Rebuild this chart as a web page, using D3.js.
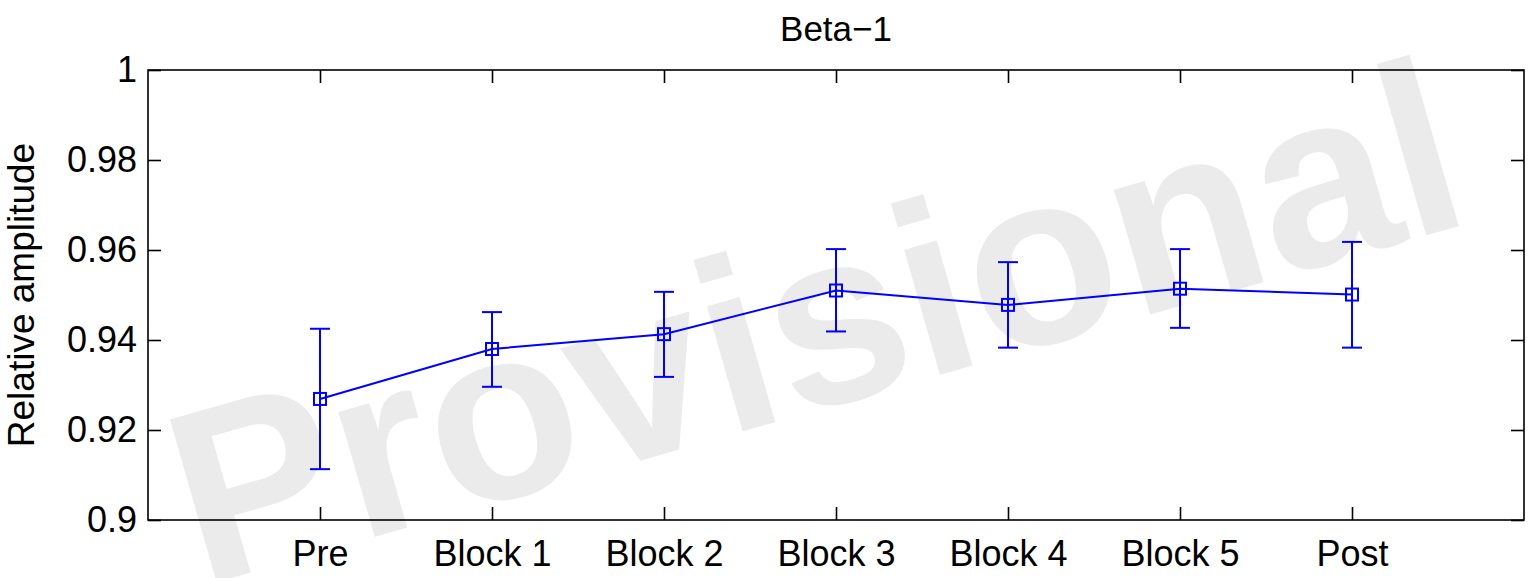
<!DOCTYPE html>
<html>
<head>
<meta charset="utf-8">
<script src="https://cdn.jsdelivr.net/npm/d3@7"></script>
<style>
  body { margin: 0; background: #fff; }
  svg text { font-family: "Liberation Sans", Arial, Helvetica, sans-serif; }
</style>
</head>
<body>
<div id="chart"></div>
<script>
const categories = ['Pre', 'Block 1', 'Block 2', 'Block 3', 'Block 4', 'Block 5', 'Post'];
const means = [0.9269, 0.9380, 0.9413, 0.9510, 0.9478, 0.9514, 0.9501];
const upper = [0.9425, 0.9462, 0.9507, 0.9602, 0.9573, 0.9602, 0.9618];
const lower = [0.9113, 0.9296, 0.9318, 0.9419, 0.9383, 0.9427, 0.9383];
const yTicks = [0.9, 0.92, 0.94, 0.96, 0.98, 1];
const title = 'Beta\u22121';
const yLabel = 'Relative amplitude';

const width = 1538, height = 578;
const margin = {top: 70, right: 14, bottom: 58, left: 148};
const blue = '#0000ff';

const svg = d3.select('#chart')
    .append('svg')
    .attr('width', width)
    .attr('height', height);

// watermark behind everything
svg.append('text')
    .attr('transform', 'translate(838,404) rotate(-16)')
    .attr('text-anchor', 'middle')
    .style('font-size', '246px')
    .style('font-weight', 'bold')
    .attr('fill', '#ebebeb')
    .text('Provisional');

const xScale = d3.scaleLinear()
    .domain([0, categories.length + 1])
    .range([margin.left, width - margin.right]);

const yScale = d3.scaleLinear()
    .domain([0.9, 1])
    .range([height - margin.bottom, margin.top]);

const data = categories.map((c, i) => ({cat: c, x: i + 1, m: means[i], hi: upper[i], lo: lower[i]}));
const xTicks = data.map(d => d.x);

const fmtY = d => (d === 1 ? '1' : d3.format('.2~f')(d));

// bottom axis with labels
const gx = svg.append('g')
    .attr('transform', `translate(0,${height - margin.bottom})`)
    .call(d3.axisBottom(xScale).tickValues(xTicks).tickSize(-13).tickPadding(20)
        .tickFormat((d, i) => categories[i]));

// top axis, ticks only
const gxt = svg.append('g')
    .attr('transform', `translate(0,${margin.top})`)
    .call(d3.axisTop(xScale).tickValues(xTicks).tickSize(-13).tickFormat(''));

// left axis
const gy = svg.append('g')
    .attr('transform', `translate(${margin.left},0)`)
    .call(d3.axisLeft(yScale).tickValues(yTicks).tickSize(-13).tickPadding(11).tickFormat(fmtY));

// right axis, ticks only
const gyr = svg.append('g')
    .attr('transform', `translate(${width - margin.right},0)`)
    .call(d3.axisRight(yScale).tickValues(yTicks).tickSize(-13).tickFormat(''));

[gx, gxt, gy, gyr].forEach(g => {
    g.select('.domain').remove();
    g.selectAll('.tick line').attr('stroke', '#000').attr('stroke-width', 1.6);
    g.selectAll('.tick text')
        .attr('fill', '#000')
        .style('font-size', '36px');
});

// frame
svg.append('rect')
    .attr('x', margin.left)
    .attr('y', margin.top)
    .attr('width', width - margin.left - margin.right)
    .attr('height', height - margin.top - margin.bottom)
    .attr('fill', 'none')
    .attr('stroke', '#000')
    .attr('stroke-width', 1.6);

// title
svg.append('text')
    .attr('x', (margin.left + width - margin.right) / 2)
    .attr('y', 41)
    .attr('text-anchor', 'middle')
    .style('font-size', '35px')
    .text(title);

// y label
svg.append('text')
    .attr('transform', `translate(34,${(margin.top + height - margin.bottom) / 2}) rotate(-90)`)
    .attr('text-anchor', 'middle')
    .style('font-size', '37px')
    .text(yLabel);

// connecting line
const line = d3.line()
    .x(d => xScale(d.x))
    .y(d => yScale(d.m));

svg.append('path')
    .datum(data)
    .attr('d', line)
    .attr('fill', 'none')
    .attr('stroke', blue)
    .attr('stroke-width', 2);

// error bars
const capW = 10;
const bars = svg.selectAll('.err')
    .data(data)
    .enter()
    .append('g')
    .attr('class', 'err')
    .attr('stroke', blue)
    .attr('stroke-width', 2)
    .attr('fill', 'none');

bars.append('line')
    .attr('x1', d => xScale(d.x)).attr('x2', d => xScale(d.x))
    .attr('y1', d => yScale(d.hi)).attr('y2', d => yScale(d.lo));
bars.append('line')
    .attr('x1', d => xScale(d.x) - capW).attr('x2', d => xScale(d.x) + capW)
    .attr('y1', d => yScale(d.hi)).attr('y2', d => yScale(d.hi));
bars.append('line')
    .attr('x1', d => xScale(d.x) - capW).attr('x2', d => xScale(d.x) + capW)
    .attr('y1', d => yScale(d.lo)).attr('y2', d => yScale(d.lo));

// square markers
const ms = 12;
svg.selectAll('.dot')
    .data(data)
    .enter()
    .append('rect')
    .attr('class', 'dot')
    .attr('x', d => xScale(d.x) - ms / 2)
    .attr('y', d => yScale(d.m) - ms / 2)
    .attr('width', ms)
    .attr('height', ms)
    .attr('fill', 'none')
    .attr('stroke', blue)
    .attr('stroke-width', 2);
</script>
</body>
</html>
